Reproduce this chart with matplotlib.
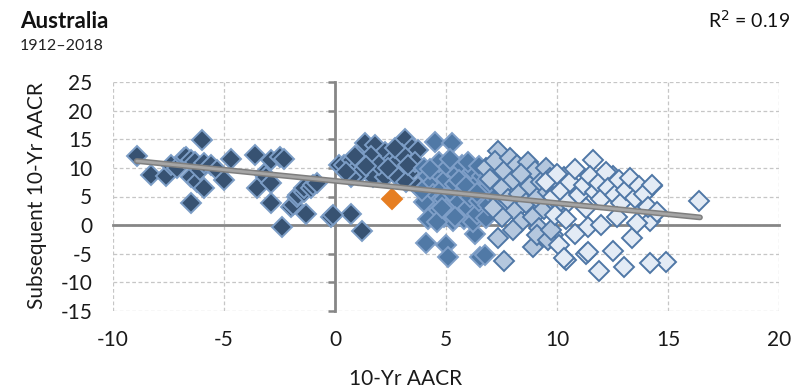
import matplotlib
matplotlib.use("Agg")
import matplotlib.pyplot as plt
import numpy as np

# ---- data ----------------------------------------------------------------
# trailing 10-yr AACR (x) vs subsequent 10-yr AACR (y)
early_x = [-8.9, -8.3, -7.6, -7.4, -7.1, -6.8, -6.7, -6.5, -6.5, -6.5, -6.3, -6.2, -6.0, -6.1,
           -5.9, -5.9, -5.6, -5.3, -5.0, -4.7, -3.6, -3.5, -3.2, -2.9, -3.1, -2.9, -2.9,
           -2.5, -2.3, -2.4, -2.0, -1.9, -1.7, -1.65, -1.4, -1.4, -1.1, -1.3, -1.0, -0.8,
           -0.2, 0.2, 0.4, 0.7, 0.75, 1.0, 1.2, 1.35, 1.2, 1.5, 1.7, 1.8, 1.95, 2.25, 2.25,
           2.55, 2.55, 2.9, 2.85, 3.15, 3.45, 3.45, 3.2, 3.75, 3.75, 1.05, 0.7, 0.5, 1.3,
           1.6, 2.0, 2.4, 3.0, 3.6, 0.9, 1.4, 2.7, 3.3, -0.1]
early_y = [12.0, 8.7, 8.5, 10.5, 10.0, 11.8, 11.9, 11.3, 8.4, 3.8, 11.0, 7.6, 14.8, 9.6,
           6.4, 10.8, 10.5, 9.6, 7.9, 11.6, 12.2, 6.4, 8.9, 11.4, 8.4, 7.3, 3.8,
           11.9, 11.6, -0.4, 3.2, 3.5, 4.9, 5.2, 5.8, 6.4, 6.5, 2.0, 7.0, 7.3,
           1.5, 10.5, 10.5, 2.0, 11.3, 9.9, 12.8, 14.3, -1.0, 9.6, 8.4, 14.0, 11.6, 12.8, 8.4,
           11.3, 9.9, 11.3, 8.4, 15.1, 13.4, 9.6, 7.6, 6.7, 13.1, 8.7, 8.4, 9.2, 11.0,
           12.0, 10.5, 10.0, 12.5, 11.0, 12.0, 10.4, 13.5, 10.5, 1.8]

mid_x = [4.5, 5.25, 4.1, 5.0, 5.1, 6.3, 6.55, 6.75,
         4.0, 4.2, 4.3, 4.4, 4.5, 4.5, 4.6, 4.7, 4.8, 4.9, 4.9, 5.0, 5.1, 5.2, 5.3, 5.3,
         5.4, 5.5, 5.5, 5.6, 5.7, 5.8, 5.8, 5.9, 6.0, 6.1, 6.2, 6.2, 6.3, 6.4, 6.5, 6.6,
         6.7, 6.8, 6.9, 7.0, 7.1, 7.2, 4.2, 4.0, 3.9, 4.6, 5.0, 5.6, 6.0, 7.3, 6.5, 4.3,
         5.2, 4.8, 5.4, 5.9, 6.4, 6.9]
mid_y = [14.5, 14.3, -3.2, -3.5, -5.5, -1.6, -5.5, -5.2,
         10.0, 8.5, 7.0, 5.5, 3.5, 2.0, 9.3, 11.0, 6.3, 4.5, 1.5, 8.0, 10.2, 3.0, 5.5, 0.8,
         7.2, 9.0, 2.2, 4.0, 10.5, 6.0, 1.0, 8.3, 3.0, 5.0, 9.5, 0.5, 7.0, 2.0, 4.3, 8.5,
         6.0, 1.2, 3.5, 7.5, 9.0, 5.0, 1.0, 4.0, 6.0, 0.5, 2.8, 7.8, 11.0, 2.5, 10.3, 9.8,
         11.5, 3.0, 1.5, 6.8, 5.6, 8.0]

late_x = [7.35, 7.35, 7.6, 6.8, 7.0, 7.2, 7.5, 7.6, 7.8, 7.9, 8.0, 8.1, 8.2, 8.3, 8.4,
          8.5, 8.6, 8.7, 8.8, 8.9, 9.0, 9.1, 9.2, 9.3, 9.4, 9.5, 9.6, 9.7, 9.8, 10.0,
          8.0, 8.9, 9.1, 9.6, 9.75, 7.5, 10.0, 9.8, 7.1, 8.4]
late_y = [13.0, -2.3, -6.2, 10.0, 8.0, 11.2, 6.5, 9.5, 4.5, 11.8, 7.8, 2.5, 10.5, 5.5, 0.5,
          8.5, 3.8, 11.0, 6.8, 1.5, 9.5, 4.8, -0.5, 7.5, 2.8, 10.0, 5.8, 8.3, -1.8, 6.5,
          -0.8, -3.8, -1.75, -2.6, -0.9, 1.5, 3.5, 8.0, 3.0, 9.0]

recent_x = [16.4, 11.6, 10.3, 14.3, 11.4, 13.4, 14.9, 14.2, 13.0, 12.5, 11.9, 10.4, 11.3,
            14.2, 13.4, 12.5, 9.5, 9.8, 10.0, 10.2, 10.5, 10.6, 10.8, 11.0, 11.2, 11.3,
            11.5, 11.7, 11.9, 12.0, 12.2, 12.3, 12.6, 12.8, 12.9, 13.1, 13.3, 13.5, 13.7,
            13.9, 14.1, 14.3, 14.5, 10.1, 10.8, 11.4, 9.9, 10.4, 12.0, 12.7, 10.3, 13.6]
recent_y = [4.2, 11.4, 8.4, 6.8, -0.4, -2.2, -6.4, -6.7, -7.3, -4.6, -8.0, -6.1, -5.0,
            0.8, 7.0, 8.5, 7.5, 5.0, 9.0, 6.0, 4.0, 7.5, 9.8, 5.2, 7.0, 3.0,
            8.5, 5.8, 7.3, 4.5, 9.2, 6.5, 5.3, 7.8, 3.8, 6.2, 8.2, 4.8, 6.8,
            5.5, 3.2, 7.0, 2.3, -3.5, -1.5, -4.7, 1.8, 1.0, 0.0, 1.5, -5.8, 0.3]

current_x = [2.55]
current_y = [4.5]

# linear trend endpoints
trend_x = [-8.93, 16.44]
trend_y = [11.2, 1.35]
r_squared = 0.19

x_ticks = [-10, -5, 0, 5, 10, 15, 20]
y_ticks = [-15, -10, -5, 0, 5, 10, 15, 20, 25]

# ---- figure --------------------------------------------------------------
plt.rcParams['font.family'] = ['Lato', 'DejaVu Sans']
plt.rcParams['axes.unicode_minus'] = False

W, H = 805, 391
fig = plt.figure(figsize=(W / 100, H / 100), dpi=100)
ax = fig.add_axes([113 / W, 1 - 311 / H, 666 / W, 229 / H])
ax.set_xlim(-10, 20)
ax.set_ylim(-15, 25)
ax.set_xticks(x_ticks)
ax.set_yticks(y_ticks)
ax.grid(True, color='#c6c6c6', linestyle=(0, (3, 2)), linewidth=0.9, zorder=0)
ax.set_axisbelow(True)

# zero axes drawn through the origin
for s in ['top', 'right']:
    ax.spines[s].set_visible(False)
ax.spines['left'].set_position(('data', 0))
ax.spines['bottom'].set_position(('data', 0))
for s in ['left', 'bottom']:
    ax.spines[s].set_color('#868686')
    ax.spines[s].set_linewidth(2.0)
    ax.spines[s].set_zorder(1)
ax.tick_params(axis='y', direction='out', length=5, width=1.8, color='#868686',
               labelleft=False)
ax.tick_params(axis='x', length=0, labelbottom=False)

# tick labels along the outer edges
sy = ax.secondary_yaxis('left')
sy.set_yticks(y_ticks)
sy.tick_params(length=0, pad=15, labelsize=15, labelcolor='#1a1a1a')
sy.spines['left'].set_visible(False)
sx = ax.secondary_xaxis('bottom')
sx.set_xticks(x_ticks)
sx.tick_params(length=0, pad=14, labelsize=15, labelcolor='#1a1a1a')
sx.spines['bottom'].set_visible(False)

ms, mew = 10.5, 1.4
ax.plot(early_x, early_y, 'D', ms=ms, mfc='#375272', mec='#7c9dc6', mew=mew, zorder=3)
ax.plot(mid_x, mid_y, 'D', ms=ms, mfc='#5079a6', mec='#7f9fc8', mew=mew, zorder=4)
ax.plot(late_x, late_y, 'D', ms=ms, mfc='#b4c7de', mec='#4f77a6', mew=mew, zorder=5)
ax.plot(recent_x, recent_y, 'D', ms=ms, mfc='#e3ebf5', mec='#4f77a6', mew=mew, zorder=6)
ax.plot(current_x, current_y, 'D', ms=ms, mfc='#e67e22', mec='#e67e22', mew=mew, zorder=7)

# trend line
ax.plot(trend_x, trend_y, color='#7f7f7f', lw=4.2, solid_capstyle='round', zorder=8)
ax.plot(trend_x, trend_y, color='#a6a6a6', lw=2.0, solid_capstyle='round', zorder=9)

# ---- text ----------------------------------------------------------------
fig.text(20 / W, 1 - 22 / H, 'Australia', fontsize=16, fontweight='bold',
         va='center', ha='left', color='#111111')
fig.text(20 / W, 1 - 46 / H, '1912–2018', fontsize=11.5, va='center', ha='left',
         color='#222222')
fig.text(790 / W, 1 - 20 / H, f'R$^2$ = {r_squared:.2f}', fontsize=14, va='center',
         ha='right', color='#111111')
fig.text(406 / W, 1 - 379 / H, '10-Yr AACR', fontsize=15, va='center', ha='center',
         color='#1a1a1a')
fig.text(37 / W, 1 - 196 / H, 'Subsequent 10-Yr AACR', fontsize=15, va='center',
         ha='center', rotation=90, color='#1a1a1a')

fig.savefig('out.png', dpi=100)
